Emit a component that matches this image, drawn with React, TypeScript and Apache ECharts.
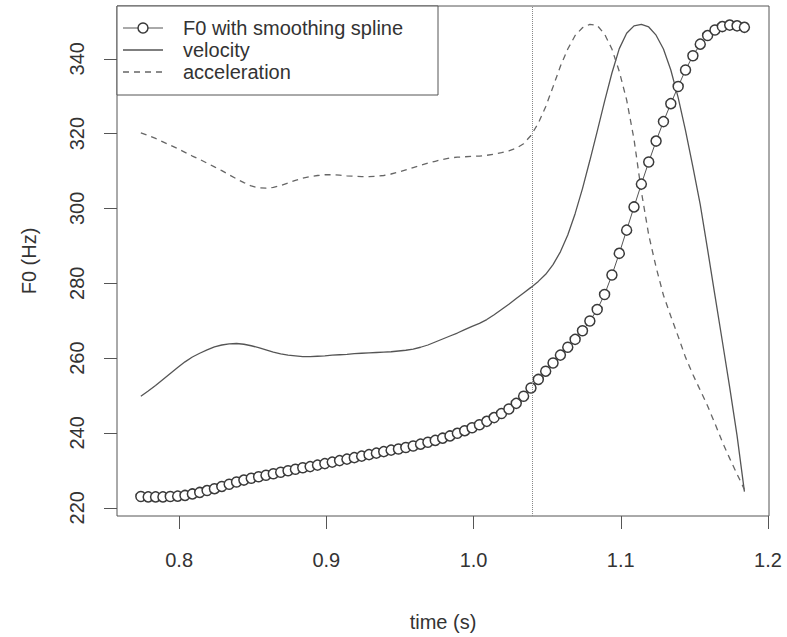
import React, { useEffect, useRef } from "react";
import * as echarts from "echarts";

// time (s), sampled every 5 ms
const times = [
  0.774, 0.779, 0.784, 0.789, 0.794, 0.799, 0.804, 0.809, 0.814, 0.819,
  0.824, 0.829, 0.834, 0.839, 0.844, 0.849, 0.854, 0.859, 0.864, 0.869,
  0.874, 0.879, 0.884, 0.889, 0.894, 0.899, 0.904, 0.909, 0.914, 0.919,
  0.924, 0.929, 0.934, 0.939, 0.944, 0.949, 0.954, 0.959, 0.964, 0.969,
  0.974, 0.979, 0.984, 0.989, 0.994, 0.999, 1.004, 1.009, 1.014, 1.019,
  1.024, 1.029, 1.034, 1.039, 1.044, 1.049, 1.054, 1.059, 1.064, 1.069,
  1.074, 1.079, 1.084, 1.089, 1.094, 1.099, 1.104, 1.109, 1.114, 1.119,
  1.124, 1.129, 1.134, 1.139, 1.144, 1.149, 1.154, 1.159, 1.164, 1.169,
  1.174, 1.179, 1.184,
];

// F0 with smoothing spline (Hz)
const f0Values = [
  223.0, 222.9, 222.9, 222.9, 223.0, 223.1, 223.3, 223.7, 224.1, 224.6,
  225.1, 225.7, 226.3, 226.9, 227.4, 227.9, 228.3, 228.7, 229.1, 229.5,
  229.9, 230.3, 230.7, 231.0, 231.4, 231.8, 232.2, 232.6, 233.0, 233.4,
  233.8, 234.2, 234.6, 235.0, 235.4, 235.7, 236.1, 236.5, 237.0, 237.5,
  238.0, 238.6, 239.2, 239.9, 240.6, 241.4, 242.2, 243.1, 244.1, 245.2,
  246.4, 247.9, 249.8, 252.0, 254.3, 256.5, 258.7, 260.8, 262.9, 265.0,
  267.3, 269.9, 273.0, 277.0, 282.2, 288.0, 294.2, 300.4, 306.5, 312.4,
  318.0, 323.2, 328.0, 332.6, 337.0, 340.8, 343.9, 346.2, 347.7, 348.6,
  349.0, 348.8, 348.4,
];

// velocity (rescaled to the F0 axis)
const velocityValues = [
  249.8, 251.2, 252.7, 254.3, 255.9, 257.5, 259.0, 260.3, 261.3, 262.2,
  263.0, 263.5, 263.8, 263.9, 263.7, 263.3, 262.8, 262.2, 261.6, 261.1,
  260.8, 260.6, 260.4, 260.4, 260.5, 260.6, 260.8, 260.9, 261.0, 261.2,
  261.3, 261.4, 261.5, 261.6, 261.7, 261.9, 262.1, 262.4, 262.9, 263.5,
  264.3, 265.1, 265.9, 266.7, 267.6, 268.5, 269.3, 270.3, 271.6, 273.0,
  274.4, 275.9, 277.4, 278.9, 280.5, 282.4, 285.0, 288.4, 292.9, 298.6,
  305.3, 312.8, 320.6, 328.6, 336.2, 342.7, 346.8, 348.8, 349.2, 348.5,
  346.3, 342.6, 337.0, 329.6, 320.8, 311.1, 301.0, 289.0, 276.7, 264.5,
  252.2, 239.3, 224.3,
];

// acceleration (rescaled to the F0 axis)
const accelerationValues = [
  320.2, 319.5, 318.7, 317.8, 316.9, 316.0, 315.0, 314.0, 313.1, 312.1,
  311.1, 310.1, 309.0, 307.9, 306.9, 306.0, 305.5, 305.4, 305.6, 306.1,
  306.8, 307.5, 308.1, 308.5, 308.8, 309.0, 309.0, 308.9, 308.7, 308.6,
  308.5, 308.5, 308.6, 308.8, 309.2, 309.7, 310.3, 310.9, 311.5, 312.1,
  312.6, 313.1, 313.5, 313.7, 313.8, 313.9, 314.0, 314.2, 314.5, 314.9,
  315.4, 316.1, 317.3, 319.5, 322.8, 327.2, 332.5, 338.0, 342.6, 346.2,
  348.3, 349.2, 348.9, 346.6, 342.6, 336.6, 329.0, 318.5, 304.5, 292.9,
  284.3, 276.8, 271.2, 265.8, 260.2, 255.6, 251.4, 247.2, 242.5, 237.6,
  233.2, 229.0, 224.9,
];

const xTicks = [0.8, 0.9, 1.0, 1.1, 1.2];
const yTicks = [220, 240, 260, 280, 300, 320, 340];
const markTimes = [1.04];
const legendLabels = ["F0 with smoothing spline", "velocity", "acceleration"];

const FONT = "'Liberation Sans', Arial, Helvetica, sans-serif";

export default function App() {
  const ref = useRef<HTMLDivElement>(null);

  useEffect(() => {
    if (!ref.current) return;
    const chart = echarts.init(ref.current, null, { renderer: "svg" });

    const pair = (vals: number[]) => times.map((t, i) => [t, vals[i]]);

    const legendX = 117;
    const legendY = 6;
    const rowY = [28, 50, 72];

    chart.setOption({
      animation: false,
      backgroundColor: "#ffffff",
      textStyle: { fontFamily: FONT },
      grid: {
        left: 117,
        right: 18,
        top: 6,
        bottom: 110,
        show: true,
        borderColor: "#555",
        borderWidth: 1,
        backgroundColor: "transparent",
      },
      xAxis: {
        type: "value",
        min: 0.7578,
        max: 1.2007,
        name: "time (s)",
        nameLocation: "middle",
        nameGap: 96,
        nameTextStyle: { fontSize: 20, color: "#333", fontFamily: FONT },
        axisLine: { show: false },
        splitLine: { show: false },
        axisTick: {
          show: true,
          length: 13,
          customValues: xTicks,
          lineStyle: { color: "#555", width: 1 },
        },
        axisLabel: {
          customValues: xTicks,
          fontSize: 20,
          color: "#333",
          margin: 34,
          fontFamily: FONT,
          formatter: (v: number) => v.toFixed(1),
        },
      },
      yAxis: {
        type: "value",
        min: 217.8,
        max: 354.1,
        name: "F0 (Hz)",
        nameLocation: "middle",
        nameGap: 78,
        nameTextStyle: { fontSize: 20, color: "#333", fontFamily: FONT },
        axisLine: { show: false },
        splitLine: { show: false },
        axisTick: {
          show: true,
          length: 13,
          customValues: yTicks,
          lineStyle: { color: "#555", width: 1 },
        },
        axisLabel: {
          customValues: yTicks,
          fontSize: 20,
          color: "#333",
          rotate: 90,
          margin: 30,
          fontFamily: FONT,
        },
      },
      series: [
        {
          name: legendLabels[0],
          type: "line",
          data: pair(f0Values),
          symbol: "circle",
          symbolSize: 10,
          showAllSymbol: true,
          itemStyle: { color: "#ffffff", borderColor: "#3a3a3a", borderWidth: 1.5 },
          lineStyle: { color: "#555", width: 1 },
          z: 3,
          markLine: {
            silent: true,
            symbol: "none",
            label: { show: false },
            lineStyle: { color: "#888", type: "dotted", width: 1 },
            data: markTimes.map((t) => ({ xAxis: t })),
          },
        },
        {
          name: legendLabels[1],
          type: "line",
          data: pair(velocityValues),
          showSymbol: false,
          lineStyle: { color: "#555", width: 1.3 },
          z: 2,
        },
        {
          name: legendLabels[2],
          type: "line",
          data: pair(accelerationValues),
          showSymbol: false,
          lineStyle: { color: "#666", width: 1.3, type: [6, 5] },
          z: 2,
        },
      ],
      graphic: [
        {
          type: "rect",
          shape: { x: legendX, y: legendY, width: 321, height: 89 },
          style: { fill: "#ffffff", stroke: "#555", lineWidth: 1 },
          z: 100,
        },
        {
          type: "line",
          shape: { x1: 123, y1: rowY[0], x2: 163, y2: rowY[0] },
          style: { stroke: "#555", lineWidth: 1 },
          z: 101,
        },
        {
          type: "circle",
          shape: { cx: 143, cy: rowY[0], r: 5 },
          style: { fill: "#ffffff", stroke: "#3a3a3a", lineWidth: 1.5 },
          z: 102,
        },
        {
          type: "line",
          shape: { x1: 123, y1: rowY[1], x2: 163, y2: rowY[1] },
          style: { stroke: "#555", lineWidth: 1.3 },
          z: 101,
        },
        {
          type: "line",
          shape: { x1: 123, y1: rowY[2], x2: 163, y2: rowY[2] },
          style: { stroke: "#666", lineWidth: 1.3, lineDash: [6, 5] },
          z: 101,
        },
        ...legendLabels.map((label, i) => ({
          type: "text",
          x: 183,
          y: rowY[i],
          style: {
            text: label,
            fontSize: 20,
            fontFamily: FONT,
            fill: "#333",
            textVerticalAlign: "middle",
            verticalAlign: "middle",
          },
          z: 102,
        })),
      ],
    });

    return () => chart.dispose();
  }, []);

  return (
    <div
      ref={ref}
      style={{ position: "fixed", left: 0, top: 0, width: 787, height: 637 }}
    />
  );
}
